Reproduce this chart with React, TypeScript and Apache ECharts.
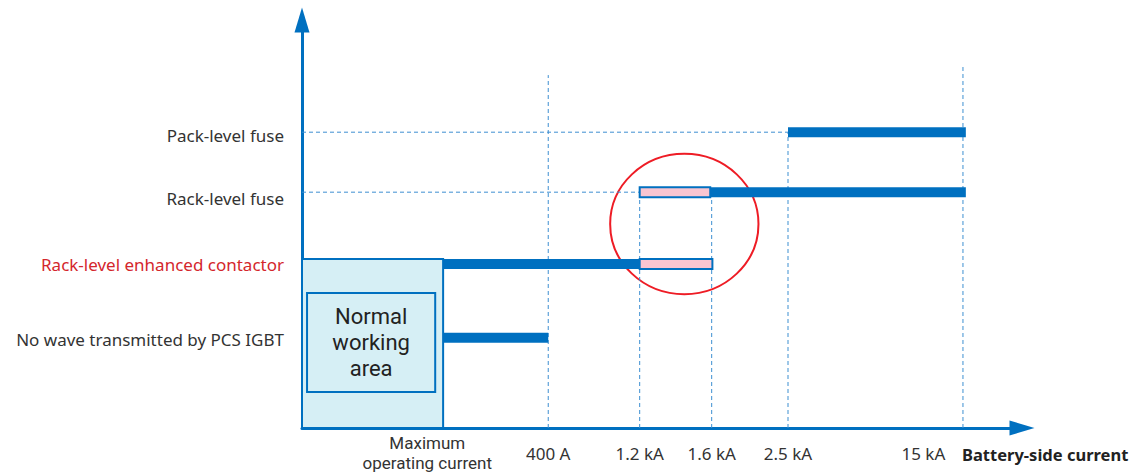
import React, { useEffect, useRef } from "react";
import * as echarts from "echarts";

// Schematic x positions (0 = origin, 100 = axis end) of the current thresholds
const xTickLabels = ["Maximum\noperating current", "400 A", "1.2 kA", "1.6 kA", "2.5 kA", "15 kA"];
const xTickPositions = [19.6, 34.2, 46.9, 56.9, 67.5, 91.8];
const xLabelPositions = [17.4, 34.2, 46.9, 56.9, 67.5, 86.3];
const xAxisTitle = "Battery-side current";

// Schematic y positions of the protection levels
const rowLabels = ["No wave transmitted by PCS IGBT", "Rack-level enhanced contactor", "Rack-level fuse", "Pack-level fuse"];
const rowPositions = [22.1, 40.2, 57.8, 72.5];
const rowLabelPositions = [21.6, 40.0, 56.3, 71.7];

// Protection ranges (bars): row index, start, end, kind
const barRow = [3, 2, 2, 1, 1, 0];
const barStart = [67.5, 46.9, 56.7, 19.6, 46.9, 19.6];
const barEnd = [92.2, 56.7, 92.2, 46.9, 57.0, 34.2];
const barKind = ["solid", "gap", "solid", "solid", "gap", "solid"];

// Vertical guide tops for ticks 1..5 and horizontal guide rows
const vGuideTick = [1, 2, 3, 4, 5];
const vGuideTop = [86.5, 57.8, 57.8, 72.5, 89.0];
const hGuideRow = [3, 2];
const hGuideEnd = [67.5, 46.9];

// Normal working area (outer, inner) [x0, y0, x1, y1]
const normalOuter = [0, 0, 19.6, 41.4];
const normalInner = [0.7, 8.8, 18.5, 33.1];
const normalText = "Normal\nworking\narea";

// Highlight ellipse [cx, cy, rx, ry]
const highlight = [53.1, 50.0, 10.3, 17.2];

const BLUE = "#0070c0";
const FONT = "'Noto Sans', sans-serif";

export default function App() {
  const ref = useRef<HTMLDivElement>(null);
  useEffect(() => {
    const chart = echarts.init(ref.current!, undefined, { renderer: "svg" });

    const barData = barRow.map((r, i) => [barStart[i], barEnd[i], rowPositions[r], barKind[i] === "gap" ? 1 : 0]);
    const guideData: number[][] = [];
    vGuideTick.forEach((t, i) => guideData.push([xTickPositions[t], 0, xTickPositions[t], vGuideTop[i]]));
    hGuideRow.forEach((r, i) => guideData.push([0, rowPositions[r], hGuideEnd[i], rowPositions[r]]));

    const option: any = {
      animation: false,
      grid: { left: 302, right: 114, top: 20, bottom: 47 },
      graphic: [
        {
          type: "text",
          left: 962,
          top: 446,
          style: {
            text: xAxisTitle,
            fill: "#222",
            font: "bold 16.5px " + FONT,
          },
        },
      ],
      xAxis: {
        type: "value",
        min: 0,
        max: 100,
        splitLine: { show: false },
        axisTick: { show: false },
        axisLine: {
          show: true,
          symbol: ["none", "triangle"],
          symbolSize: [15, 25],
          lineStyle: { color: BLUE, width: 3 },
        },
        axisLabel: {
          customValues: xLabelPositions,
          hideOverlap: false,
          formatter: (v: number) => {
            const i = xLabelPositions.indexOf(v);
            if (i < 0) return "";
            if (i === 0) return xTickLabels[i].split("\n").map((s) => "{m|" + s + "}").join("\n");
            return xTickLabels[i];
          },
          color: "#333",
          fontFamily: FONT,
          fontSize: 17,
          lineHeight: 20,
          margin: 25,
          verticalAlign: "middle",
          rich: {
            m: { fontFamily: "Roboto, sans-serif", fontSize: 17, lineHeight: 20, color: "#333" },
          },
        },
      },
      yAxis: {
        type: "value",
        min: 0,
        max: 100,
        splitLine: { show: false },
        axisTick: { show: false },
        axisLine: {
          show: true,
          symbol: ["none", "triangle"],
          symbolSize: [15, 25],
          lineStyle: { color: BLUE, width: 3 },
        },
        axisLabel: {
          customValues: rowLabelPositions,
          formatter: (v: number) => {
            const i = rowLabelPositions.indexOf(v);
            if (i < 0) return "";
            return i === 1 ? "{red|" + rowLabels[i] + "}" : rowLabels[i];
          },
          color: "#333",
          fontFamily: FONT,
          fontSize: 17,
          margin: 18,
          rich: { red: { color: "#d4262c", fontFamily: FONT, fontSize: 17 } },
        },
      },
      series: [
        {
          type: "custom",
          name: "highlight",
          z: 1,
          data: [highlight],
          renderItem: (params: any, api: any) => {
            const c = api.coord([api.value(0), api.value(1)]);
            const s = api.size([api.value(2), api.value(3)]);
            return {
              type: "ellipse",
              shape: { cx: c[0], cy: c[1], rx: s[0], ry: s[1] },
              style: { fill: "none", stroke: "#ee1c25", lineWidth: 2 },
            };
          },
        },
        {
          type: "custom",
          name: "guides",
          z: 2,
          data: guideData,
          renderItem: (params: any, api: any) => {
            const p1 = api.coord([api.value(0), api.value(1)]);
            const p2 = api.coord([api.value(2), api.value(3)]);
            return {
              type: "line",
              shape: { x1: p1[0], y1: p1[1], x2: p2[0], y2: p2[1] },
              style: { stroke: "#3d8fd1", lineWidth: 1, lineDash: [4, 3] },
            };
          },
        },
        {
          type: "custom",
          name: "normal",
          z: 3,
          data: [normalOuter, normalInner],
          renderItem: (params: any, api: any) => {
            const p1 = api.coord([api.value(0), api.value(1)]);
            const p2 = api.coord([api.value(2), api.value(3)]);
            const x = Math.min(p1[0], p2[0]);
            const y = Math.min(p1[1], p2[1]);
            const w = Math.abs(p2[0] - p1[0]);
            const h = Math.abs(p2[1] - p1[1]);
            const rect = {
              type: "rect",
              shape: { x, y, width: w, height: h },
              style: {
                fill: params.dataIndex === 0 ? "#d6eff5" : "transparent",
                stroke: BLUE,
                lineWidth: 2,
              },
            };
            if (params.dataIndex === 0) return rect;
            return {
              type: "group",
              children: [
                rect,
                {
                  type: "text",
                  x: x + w / 2,
                  y: y + h / 2,
                  style: {
                    text: normalText,
                    fill: "#222",
                    font: "22px Roboto, sans-serif",
                    lineHeight: 26,
                    align: "center",
                    verticalAlign: "middle",
                  },
                },
              ],
            };
          },
        },
        {
          type: "custom",
          name: "bars",
          z: 4,
          data: barData,
          renderItem: (params: any, api: any) => {
            const p1 = api.coord([api.value(0), api.value(2)]);
            const p2 = api.coord([api.value(1), api.value(2)]);
            const gap = api.value(3) === 1;
            const h = 10;
            return {
              type: "rect",
              shape: { x: p1[0], y: p1[1] - h / 2, width: p2[0] - p1[0], height: h },
              style: gap
                ? { fill: "#f9c5d1", stroke: BLUE, lineWidth: 2 }
                : { fill: BLUE },
            };
          },
        },
      ],
    };
    chart.setOption(option);
    return () => chart.dispose();
  }, []);
  return (
    <div
      ref={ref}
      style={{ position: "fixed", left: 0, top: 0, width: 1136, height: 475, background: "#fff" }}
    />
  );
}
